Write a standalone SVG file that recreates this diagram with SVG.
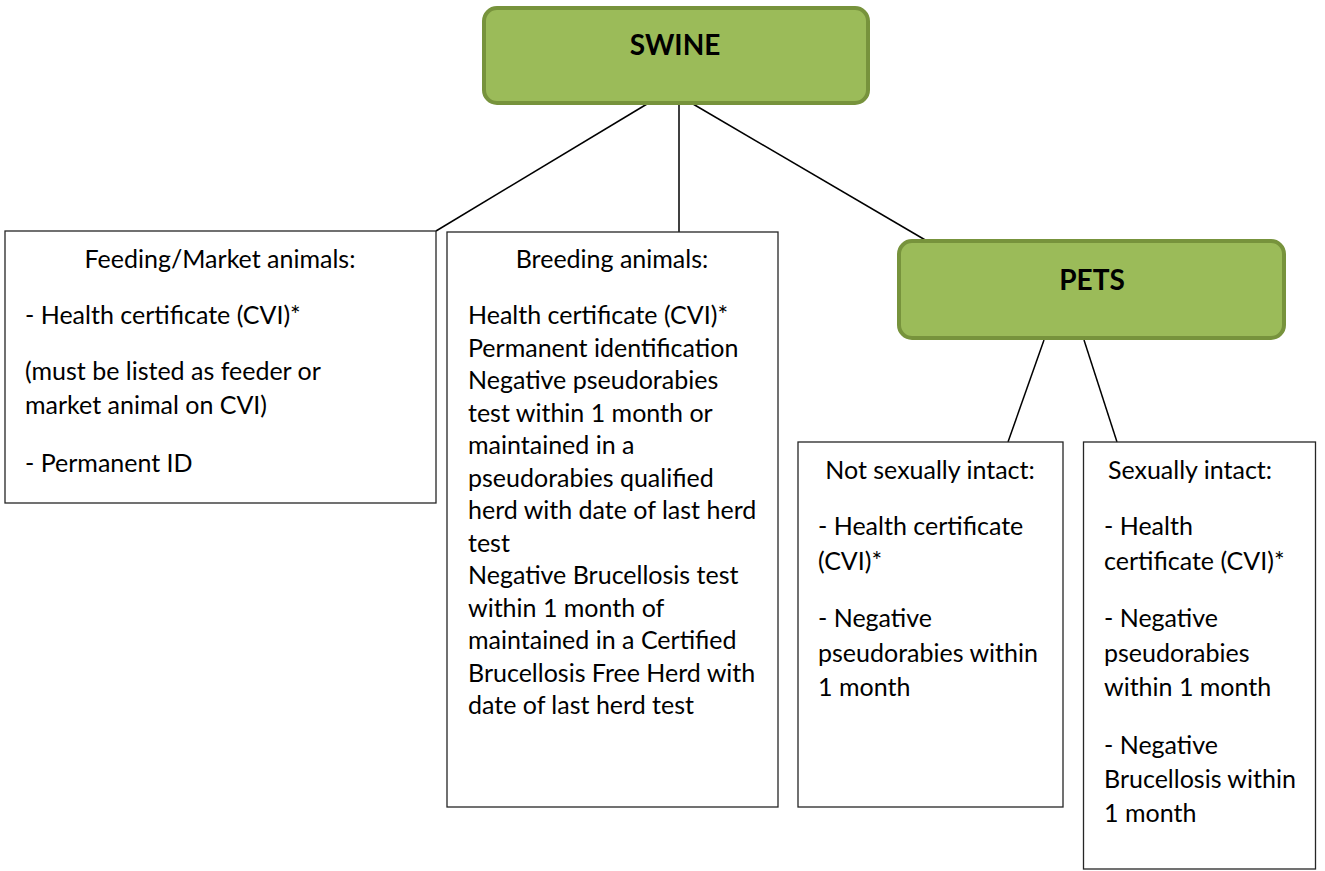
<svg xmlns="http://www.w3.org/2000/svg" width="1325" height="871" viewBox="0 0 1325 871">
<style>
.hdr{fill:#9BBB59;stroke:#77933C;stroke-width:4}
.box{fill:#fff;stroke:#262626;stroke-width:1.3}
.conn line{stroke:#000;stroke-width:1.5}
text{font-family:Lato,"Open Sans","Liberation Sans",sans-serif;font-size:25px;fill:#000}
.ht{font-weight:bold;font-size:28px}
.c{text-anchor:middle}
</style>
<rect width="1325" height="871" fill="#fff"/>
<g id="connectors" class="conn">
<line x1="647" y1="104" x2="436" y2="231"/>
<line x1="679" y1="104" x2="679" y2="232"/>
<line x1="693" y1="104" x2="927" y2="241"/>
<line x1="1044" y1="340" x2="1008" y2="442"/>
<line x1="1084" y1="340" x2="1117" y2="442"/>
</g>
<g id="swine">
<rect class="hdr" x="484" y="8" width="384" height="95" rx="13"/>
<text class="ht c" x="675" y="55">SWINE</text>
</g>
<g id="pets">
<rect class="hdr" x="899" y="241" width="385" height="97" rx="13"/>
<text class="ht c" x="1092" y="290">PETS</text>
</g>
<g id="feeding">
<rect class="box" x="5" y="231" width="431" height="272"/>
<text class="c" x="220" y="268">Feeding/Market animals:</text>
<text x="25" y="324">- Health certificate (CVI)*</text>
<text x="25" y="380">(must be listed as feeder or</text>
<text x="25" y="414">market animal on CVI)</text>
<text x="25" y="472">- Permanent ID</text>
</g>
<g id="breeding">
<rect class="box" x="447" y="232" width="331" height="575"/>
<text class="c" x="612" y="268">Breeding animals:</text>
<text x="468" y="324">Health certificate (CVI)*</text>
<text x="468" y="356.5">Permanent identification</text>
<text x="468" y="389">Negative pseudorabies</text>
<text x="468" y="421.5">test within 1 month or</text>
<text x="468" y="454">maintained in a</text>
<text x="468" y="486.5">pseudorabies qualified</text>
<text x="468" y="519">herd with date of last herd</text>
<text x="468" y="551.5">test</text>
<text x="468" y="584">Negative Brucellosis test</text>
<text x="468" y="616.5">within 1 month of</text>
<text x="468" y="649">maintained in a Certified</text>
<text x="468" y="681.5">Brucellosis Free Herd with</text>
<text x="468" y="714">date of last herd test</text>
</g>
<g id="not-intact">
<rect class="box" x="798" y="442" width="265" height="365"/>
<text class="c" x="930" y="479">Not sexually intact:</text>
<text x="818" y="535">- Health certificate</text>
<text x="818" y="570">(CVI)*</text>
<text x="818" y="627">- Negative</text>
<text x="818" y="662">pseudorabies within</text>
<text x="818" y="696">1 month</text>
</g>
<g id="intact">
<rect class="box" x="1083.5" y="442" width="232" height="427"/>
<text class="c" x="1190" y="479">Sexually intact:</text>
<text x="1104" y="535">- Health</text>
<text x="1104" y="570">certificate (CVI)*</text>
<text x="1104" y="627">- Negative</text>
<text x="1104" y="662">pseudorabies</text>
<text x="1104" y="696">within 1 month</text>
<text x="1104" y="754">- Negative</text>
<text x="1104" y="788">Brucellosis within</text>
<text x="1104" y="822">1 month</text>
</g>
</svg>
